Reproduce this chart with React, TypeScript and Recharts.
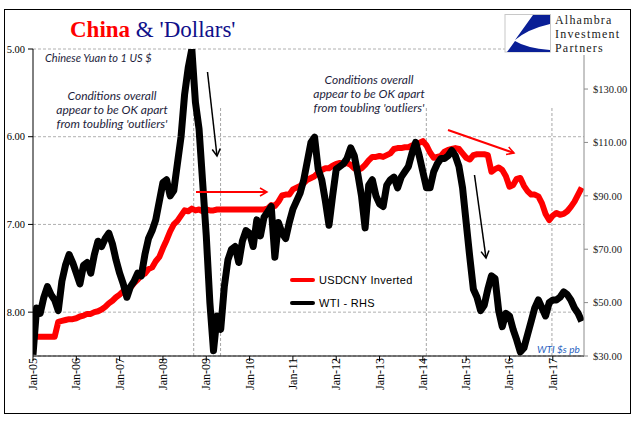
import React from "react";
import {
  ComposedChart,
  Line,
  XAxis,
  YAxis,
  CartesianGrid,
  ReferenceLine,
  Legend,
} from "recharts";

// monthly series, first point = Jan 2005
const START_YEAR = 2005;

// CNY per 1 USD (plotted on an inverted left axis)
const usdcny = [
  // 2005
  8.28, 8.28, 8.28, 8.28, 8.28, 8.28, 8.28, 8.11, 8.10, 8.09, 8.08, 8.08,
  // 2006
  8.07, 8.05, 8.04, 8.02, 8.02, 8.0, 7.99, 7.97, 7.94, 7.9, 7.87, 7.83,
  // 2007
  7.8, 7.76, 7.74, 7.72, 7.67, 7.63, 7.58, 7.56, 7.51, 7.49, 7.42, 7.37,
  // 2008
  7.27, 7.18, 7.08, 7.0, 6.96, 6.9, 6.84, 6.85, 6.82, 6.84, 6.83, 6.85,
  // 2009
  6.83, 6.84, 6.84, 6.83, 6.83, 6.83, 6.83, 6.83, 6.83, 6.83, 6.83, 6.83,
  // 2010
  6.83, 6.83, 6.83, 6.83, 6.83, 6.82, 6.78, 6.79, 6.74, 6.67, 6.66, 6.66,
  // 2011
  6.6, 6.58, 6.56, 6.53, 6.49, 6.47, 6.45, 6.41, 6.38, 6.36, 6.36, 6.33,
  // 2012
  6.31, 6.3, 6.31, 6.3, 6.32, 6.36, 6.38, 6.36, 6.32, 6.27, 6.23, 6.23,
  // 2013
  6.22, 6.23, 6.21, 6.19, 6.14, 6.13, 6.13, 6.12, 6.12, 6.1, 6.09, 6.07,
  // 2014
  6.05, 6.1, 6.18, 6.24, 6.23, 6.22, 6.17, 6.15, 6.14, 6.13, 6.14, 6.19,
  // 2015
  6.24, 6.26, 6.21, 6.2, 6.2, 6.2, 6.21, 6.4, 6.37, 6.35, 6.38, 6.45,
  // 2016
  6.57, 6.55, 6.48, 6.47, 6.56, 6.62, 6.66, 6.66, 6.68, 6.76, 6.88, 6.95,
  // 2017
  6.9, 6.87, 6.89, 6.88, 6.85, 6.8, 6.74, 6.66, 6.58,
];

// WTI, $ per barrel (right axis)
const wti = [
  // 2005
  30.5, 48, 46, 52, 56, 53, 51, 47, 58, 64, 68, 65,
  // 2006
  61, 57, 64, 65, 61, 68, 73, 71, 74, 76, 72, 66,
  // 2007
  61, 57, 52, 56, 58, 61, 60, 68, 74, 77, 81, 88,
  // 2008
  95, 96, 90, 92, 102, 112, 128, 138, 145, 125, 115, 95,
  // 2009
  75, 50, 32, 45, 40, 56, 66, 70, 71, 65, 73, 77,
  // 2010
  76, 71, 81, 75, 82, 84, 86, 67, 80, 76, 74, 80,
  // 2011
  85, 88, 91, 96, 103, 110, 112, 100, 96, 88, 79, 90,
  // 2012
  100, 101, 102, 104, 108, 105, 98, 90, 78, 94, 96, 90,
  // 2013
  87, 86, 94, 96, 97, 93, 97, 99, 101, 106, 110, 105,
  // 2014
  99, 93, 93, 99, 102, 104, 104, 105, 107, 105, 101, 93,
  // 2015
  80, 67, 55, 52, 47, 49, 55, 60, 59, 47, 41, 46,
  // 2016
  45, 40, 36, 31.5, 33, 38, 43, 48, 51, 48, 45, 50,
  // 2017
  51, 51, 52, 54, 53, 51, 48, 46, 43,
];

const yearTicks = [2005, 2006, 2007, 2008, 2009, 2010, 2011, 2012, 2013, 2014, 2015, 2016, 2017];
const yearLabels = ["Jan-05", "Jan-06", "Jan-07", "Jan-08", "Jan-09", "Jan-10", "Jan-11", "Jan-12", "Jan-13", "Jan-14", "Jan-15", "Jan-16", "Jan-17"];
const cnyTicks = [5, 6, 7, 8];
const wtiTicks = [30, 50, 70, 90, 110, 130];
// dashed marker dates (decimal years)
const markerDates = [2008.71, 2009.33, 2014.08, 2016.98];

const data = usdcny.map((v, i) => ({
  t: START_YEAR + i / 12,
  usdcny: v,
  wti: wti[i],
}));

const YearTick = ({ x, y, payload }: any) => {
  const idx = yearTicks.indexOf(payload.value);
  const tx = x + 4;
  const ty = y - 5;
  return (
    <text
      x={tx}
      y={ty}
      transform={`rotate(-90, ${tx}, ${ty})`}
      textAnchor="end"
      fontFamily="Liberation Serif"
      fontSize={12}
      fill="#000"
    >
      {yearLabels[idx]}
    </text>
  );
};

const MarkerLine = (p: any) => (
  <line
    x1={p.x1}
    y1={p.y1}
    x2={p.x2}
    y2={p.y2 + 57}
    stroke="#a6a6a6"
    strokeDasharray="3 2"
    strokeWidth={1}
  />
);

const LegendBox = () => (
  <div style={{ fontFamily: "Liberation Sans", fontSize: 11, color: "#000", letterSpacing: 0.3 }}>
    <div style={{ display: "flex", alignItems: "center", height: 23 }}>
      <span style={{ display: "inline-block", width: 25, height: 4, borderRadius: 2, background: "#ff0000", marginRight: 4 }} />
      USDCNY Inverted
    </div>
    <div style={{ display: "flex", alignItems: "center", height: 23 }}>
      <span style={{ display: "inline-block", width: 25, height: 4, borderRadius: 2, background: "#000", marginRight: 4 }} />
      WTI - RHS
    </div>
  </div>
);

const noteStyle = {
  fontFamily: "Lato",
  fontStyle: "italic" as const,
  fill: "#1e1e3c",
};

export default function App() {
  return (
    <div style={{ position: "absolute", left: 0, top: 0, width: 641, height: 421, background: "#fff" }}>
      <ComposedChart
        width={641}
        height={421}
        data={data}
        margin={{ top: 49, right: 0, bottom: 0, left: 0 }}
      >
        <CartesianGrid
          yAxisId="cny"
          vertical={false}
          stroke="#b0b0b0"
          strokeDasharray="3 2"
        />
        <XAxis
          dataKey="t"
          type="number"
          domain={[2005, 2017.72]}
          ticks={yearTicks}
          interval={0}
          height={65}
          tick={<YearTick />}
          tickSize={5}
          stroke="#000"
          allowDataOverflow
        />
        <YAxis
          yAxisId="cny"
          orientation="left"
          domain={[5, 8.5]}
          reversed
          ticks={cnyTicks}
          width={33}
          tickSize={5}
          tickMargin={3}
          tickFormatter={(v: number) => v.toFixed(2)}
          tick={{ fontFamily: "Liberation Serif", fontSize: 10.5, fill: "#000" }}
          stroke="#000"
          allowDataOverflow
        />
        <YAxis
          yAxisId="wti"
          orientation="right"
          domain={[30, 145]}
          ticks={wtiTicks}
          width={57}
          tickSize={4}
          tickMargin={5}
          tickFormatter={(v: number) => `$${v.toFixed(2)}`}
          tick={{ fontFamily: "Liberation Serif", fontSize: 10.5, fill: "#222", textAnchor: "start" }}
          stroke="#8c8c8c"
          allowDataOverflow
        />
        {markerDates.map((d) => (
          <ReferenceLine key={d} x={d} yAxisId="cny" shape={<MarkerLine />} />
        ))}
        <Line
          yAxisId="cny"
          dataKey="usdcny"
          type="linear"
          stroke="#ff0000"
          strokeWidth={6}
          strokeLinejoin="round"
          dot={false}
          isAnimationActive={false}
        />
        <Line
          yAxisId="wti"
          dataKey="wti"
          type="linear"
          stroke="#000"
          strokeWidth={7}
          strokeLinejoin="round"
          dot={false}
          isAnimationActive={false}
        />
        <Legend
          layout="vertical"
          align="center"
          verticalAlign="middle"
          content={<LegendBox />}
          wrapperStyle={{ position: "absolute", left: 290, top: 268, width: 130, bottom: "auto", right: "auto" }}
        />
      </ComposedChart>

      <svg
        width={641}
        height={421}
        style={{ position: "absolute", left: 0, top: 0, pointerEvents: "none" }}
      >
        <defs>
          <marker id="headBlack" markerWidth="10" markerHeight="10" refX="8" refY="5" orient="auto" markerUnits="userSpaceOnUse">
            <path d="M1,1 L8,5 L1,9" fill="none" stroke="#000" strokeWidth={1.5} />
          </marker>
          <marker id="headRed" markerWidth="10" markerHeight="10" refX="8" refY="5" orient="auto" markerUnits="userSpaceOnUse">
            <path d="M1,1 L8,5 L1,9" fill="none" stroke="#ff0000" strokeWidth={1.5} />
          </marker>
        </defs>

        <rect x={4.5} y={9.5} width={626} height={404} fill="none" stroke="#000" strokeWidth={1} />

        <text x={70} y={37} fontFamily="Liberation Serif" fontSize={23}>
          <tspan fill="#ff0000" fontWeight="bold">China</tspan>
          <tspan fill="#10108a"> &amp; 'Dollars'</tspan>
        </text>

        {/* logo */}
        <rect x={552} y={11} width={76} height={44} fill="#fff" />
        <rect x={505} y={14.5} width={45.5} height={37.5} fill="#fff" stroke="#c8c8c8" strokeWidth={1} />
        <path d="M533 15 L550 15 L550 24 Q528 29 515 40 Z" fill="#0a1f96" />
        <path d="M507 52 L515 41 Q526 48 550 50 L550 52 Z" fill="#0a1f96" />
        <g fontFamily="Liberation Serif" fontSize={12} fill="#222" letterSpacing={1.2}>
          <text x={555} y={24}>Alhambra</text>
          <text x={555} y={38}>Investment</text>
          <text x={555} y={52}>Partners</text>
        </g>

        <text x={45} y={62} fontSize={11} {...noteStyle}>Chinese Yuan to 1 US $</text>
        <g fontSize={12} textAnchor="middle" {...noteStyle}>
          <text x={112} y={100}>Conditions overall</text>
          <text x={112} y={114}>appear to be OK apart</text>
          <text x={112} y={128}>from toubling 'outliers'</text>
          <text x={369} y={84}>Conditions overall</text>
          <text x={369} y={98}>appear to be OK apart</text>
          <text x={369} y={112}>from toubling 'outliers'</text>
        </g>
        <text x={537} y={353} fontSize={10} fontFamily="Lato" fontStyle="italic" fill="#1f5fc0">WTI $s pb</text>

        <line x1={207.5} y1={72} x2={217} y2={156} stroke="#000" strokeWidth={1.5} markerEnd="url(#headBlack)" />
        <line x1={474.5} y1={175} x2={486} y2={258} stroke="#000" strokeWidth={1.5} markerEnd="url(#headBlack)" />
        <line x1={196} y1={192} x2={267} y2={192} stroke="#ff0000" strokeWidth={2} markerEnd="url(#headRed)" />
        <line x1={448} y1={130} x2={514} y2={153} stroke="#ff0000" strokeWidth={2} markerEnd="url(#headRed)" />
      </svg>
    </div>
  );
}
